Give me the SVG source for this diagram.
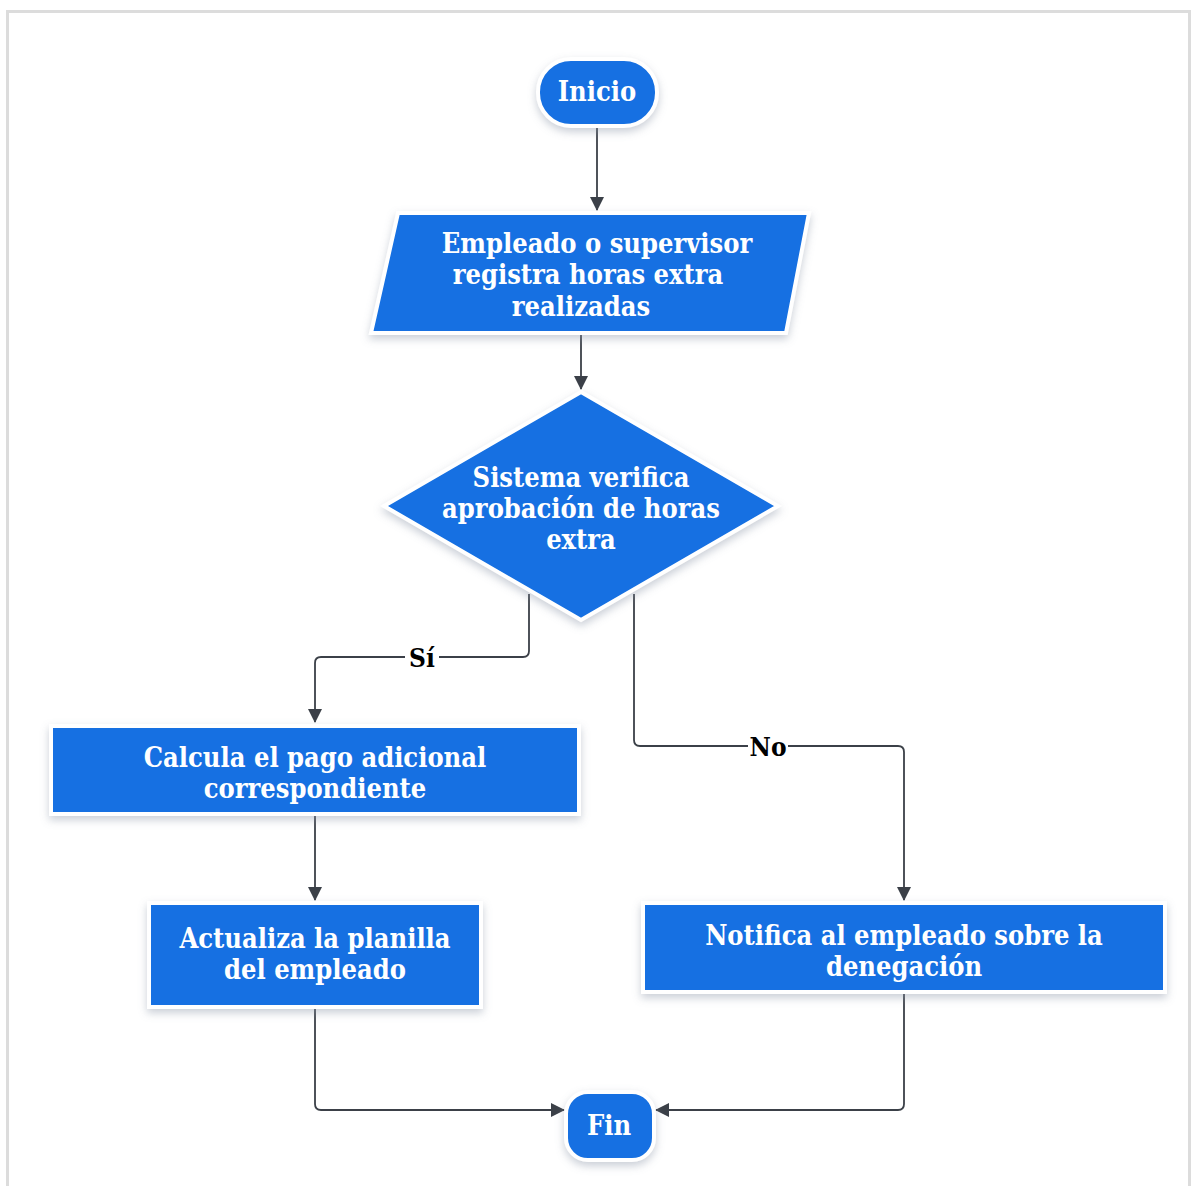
<svg xmlns="http://www.w3.org/2000/svg" width="1195" height="1186" viewBox="0 0 1195 1186">
<style>
.node{fill:#1570e2;stroke:#ffffff;stroke-width:4;filter:url(#sh)}
.t{font-family:"DejaVu Serif Condensed","DejaVu Serif",serif;font-weight:bold;font-size:27px;fill:#ffffff;text-anchor:middle}
.lbl{font-family:"DejaVu Serif Condensed","DejaVu Serif",serif;font-weight:bold;font-size:26px;fill:#000000;text-anchor:middle}
.edge{fill:none;stroke:#3b4048;stroke-width:1.8}
</style>
<defs>
<filter id="sh" x="-20%" y="-20%" width="140%" height="150%">
<feDropShadow dx="0" dy="4" stdDeviation="4" flood-color="#8a94a6" flood-opacity="0.45"/>
</filter>
<marker id="ah" viewBox="0 0 14 14" refX="13" refY="7" markerWidth="14" markerHeight="14" markerUnits="userSpaceOnUse" orient="auto">
<path d="M0,0 L14,7 L0,14 Z" fill="#3b4048"/>
</marker>
</defs>
<rect x="0" y="0" width="1195" height="1186" fill="#ffffff"/>
<rect x="7.5" y="11.5" width="1182" height="1190" fill="none" stroke="#dcdcdc" stroke-width="3"/>

<g id="connectors">
<path class="edge" d="M597,127 V210" marker-end="url(#ah)"/>
<path class="edge" d="M581,334 V389" marker-end="url(#ah)"/>
<path class="edge" d="M529,594 V651 Q529,657 523,657 H321 Q315,657 315,663 V722" marker-end="url(#ah)"/>
<path class="edge" d="M634,594 V740 Q634,746 640,746 H898 Q904,746 904,752 V900" marker-end="url(#ah)"/>
<path class="edge" d="M315,816 V900" marker-end="url(#ah)"/>
<path class="edge" d="M315,1009 V1104 Q315,1110 321,1110 H564" marker-end="url(#ah)"/>
<path class="edge" d="M904,994 V1104 Q904,1110 898,1110 H656" marker-end="url(#ah)"/>
<rect x="405" y="643" width="34" height="30" fill="#ffffff"/>
<text class="lbl" x="422" y="667">Sí</text>
<rect x="748" y="732" width="40" height="30" fill="#ffffff"/>
<text class="lbl" x="768" y="756">No</text>
</g>

<g id="inicio">
<rect class="node" x="538" y="59" width="119" height="67" rx="33" ry="33"/>
<text class="t" x="597" y="101">Inicio</text>
</g>

<g id="registra">
<polygon class="node" points="398,213 809,213 786,333 371,333"/>
<text class="t" x="597" y="253">Empleado o supervisor</text>
<text class="t" x="588" y="284">registra horas extra</text>
<text class="t" x="581" y="316">realizadas</text>
</g>

<g id="verifica">
<polygon class="node" points="581,392 778,506 581,620 384,506"/>
<text class="t" x="581" y="487">Sistema verifica</text>
<text class="t" x="581" y="518">aprobación de horas</text>
<text class="t" x="581" y="549">extra</text>
</g>

<g id="calcula">
<rect class="node" x="51" y="726" width="528" height="88"/>
<text class="t" x="315" y="767">Calcula el pago adicional</text>
<text class="t" x="315" y="798">correspondiente</text>
</g>

<g id="actualiza">
<rect class="node" x="149" y="903" width="332" height="104"/>
<text class="t" x="315" y="948">Actualiza la planilla</text>
<text class="t" x="315" y="979">del empleado</text>
</g>

<g id="notifica">
<rect class="node" x="643" y="903" width="522" height="89"/>
<text class="t" x="904" y="945">Notifica al empleado sobre la</text>
<text class="t" x="904" y="976">denegación</text>
</g>

<g id="fin">
<rect class="node" x="566" y="1092" width="88" height="68" rx="22" ry="22"/>
<text class="t" x="609" y="1135">Fin</text>
</g>
</svg>
